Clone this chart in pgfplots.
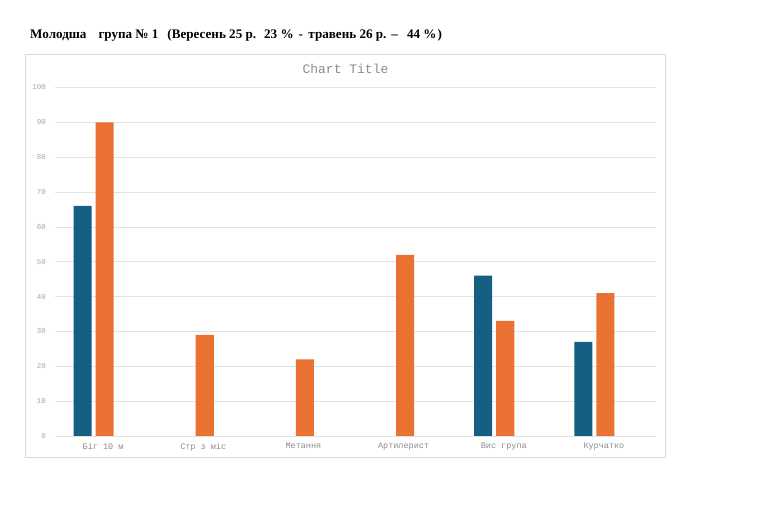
\documentclass[border=0pt]{standalone}
\usepackage{fontspec}
\setmainfont{Liberation Serif}
\newfontfamily\monofont{Liberation Mono}
\usepackage{pgfplots}
\pgfplotsset{compat=1.18}
\definecolor{cblue}{HTML}{156082}
\definecolor{corange}{HTML}{E97132}
\definecolor{cgrid}{HTML}{E3E3E3}
\definecolor{cbox}{HTML}{D9D9D9}
\definecolor{ctitle}{HTML}{8C8C8C}
\definecolor{ctick}{HTML}{A6A6A6}
\begin{document}
\begin{tikzpicture}
\path[use as bounding box, fill=white] (0pt,0pt) rectangle (768pt,505pt);
\draw[cbox, line width=0.8pt] (25pt,48pt) rectangle (665pt,451pt);
\node[anchor=west, inner sep=0pt, font=\fontsize{13.1}{15}\selectfont\bfseries] at (30pt,470pt) {Молодша\hspace{12pt}група № 1\hspace{9pt}(Вересень 25 р.\hspace{8pt}23 \%\hspace{5pt}-\hspace{5.5pt}травень 26 р.\hspace{5pt}–\hspace{9pt}44 \%\hspace{1pt})};
\node[inner sep=0pt, font=\monofont\fontsize{13}{15}\selectfont, text=ctitle] at (345.5pt,436pt) {Chart Title};
\begin{axis}[
  at={(55pt,69pt)}, anchor=south west, scale only axis,
  width=601pt, height=348.5pt,
  xmin=-0.5, xmax=5.5, ymin=0, ymax=100,
  ytick={0,10,...,100}, xtick={0,...,5},
  xticklabels={Біг 10 м, Стр з міс, Метання, Артилерист, Вис група, Курчатко},
  axis line style={draw=none},
  ymajorgrids, grid style={cgrid, line width=0.7pt},
  major tick length=0pt,
  /pgf/number format/assume math mode=true,
  yticklabel style={font=\monofont\fontsize{7.5}{8}\selectfont, text=ctick, anchor=east, inner sep=0pt, xshift=-9pt},
  xticklabel style={font=\monofont\fontsize{8.5}{9}\selectfont, text=ctitle, anchor=north, inner sep=0pt, yshift=-7pt, xshift=-2pt},
  clip=false,
]
\addplot[ybar, bar width=0.18, bar shift=0pt, fill=cblue, draw=none] coordinates {(-0.225,66) (3.775,46) (4.775,27)};
\addplot[ybar, bar width=0.18, bar shift=0pt, fill=corange, draw=none] coordinates {(-0.005,90) (0.995,29) (1.995,22) (2.995,52) (3.995,33) (4.995,41)};
\end{axis}
\end{tikzpicture}
\end{document}
